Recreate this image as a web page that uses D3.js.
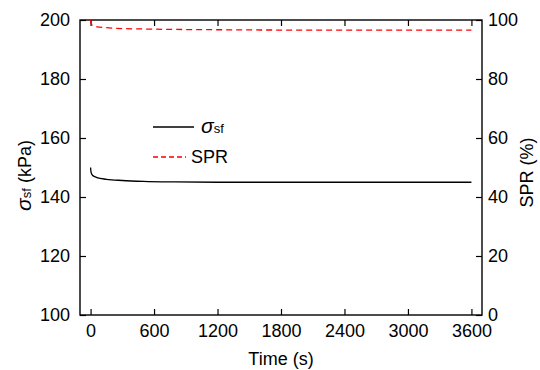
<!DOCTYPE html>
<html>
<head>
<meta charset="utf-8">
<script src="https://cdn.jsdelivr.net/npm/d3@7"></script>
<style>
  body { margin: 0; background: #fff; }
  svg text { font-family: "Liberation Sans", Arial, sans-serif; fill: #000; }
</style>
</head>
<body>
<div id="graph1"></div>
<script>
// data
var time  = [0, 5, 20, 60, 150, 300, 500, 800, 1200, 1800, 2400, 3000, 3600];
var sigma = [150, 148.3, 147.3, 146.6, 146.0, 145.6, 145.3, 145.1, 145.0, 145.0, 145.0, 145.0, 145.0];
var spr   = [100, 98.7, 98.1, 97.7, 97.4, 97.1, 96.95, 96.8, 96.7, 96.6, 96.6, 96.6, 96.6];
var xTicks = [0, 600, 1200, 1800, 2400, 3000, 3600];
var yTicks = [100, 120, 140, 160, 180, 200];
var y2Ticks = [0, 20, 40, 60, 80, 100];

var W = 540, H = 370;
var margin = {top: 20, right: 58, bottom: 55, left: 80},
    width = W - margin.left - margin.right,
    height = H - margin.top - margin.bottom;

var svg = d3.select("#graph1")
  .append("svg")
    .attr("width", W)
    .attr("height", H)
  .append("g")
    .attr("transform", "translate(" + margin.left + "," + margin.top + ")");

var x = d3.scaleLinear().domain([-100, 3700]).range([0, width]);
var y = d3.scaleLinear().domain([100, 200]).range([height, 0]);
var y2 = d3.scaleLinear().domain([0, 100]).range([height, 0]);

var fs = 18;
var fmt = d3.format("d");

function style(g) {
  g.selectAll("text").style("font-size", fs + "px");
  g.selectAll("line").attr("stroke", "#000").attr("stroke-width", 1.2);
  g.select(".domain").remove();
}

svg.append("g")
  .attr("transform", "translate(0," + height + ")")
  .call(d3.axisBottom(x).tickValues(xTicks).tickSize(-6).tickPadding(9).tickFormat(fmt))
  .call(style);

svg.append("g")
  .call(d3.axisTop(x).tickValues(xTicks).tickSize(-6).tickFormat(""))
  .call(style);

svg.append("g")
  .call(d3.axisLeft(y).tickValues(yTicks).tickSize(-6).tickPadding(10).tickFormat(fmt))
  .call(style);

svg.append("g")
  .attr("transform", "translate(" + width + ",0)")
  .call(d3.axisRight(y2).tickValues(y2Ticks).tickSize(-6).tickPadding(6).tickFormat(fmt))
  .call(style);

// frame
svg.append("rect")
  .attr("width", width)
  .attr("height", height)
  .attr("fill", "none")
  .attr("stroke", "#000")
  .attr("stroke-width", 1.4);

var sigmaData = time.map(function(t, i) { return {t: t, v: sigma[i]}; });
var sprData = time.map(function(t, i) { return {t: t, v: spr[i]}; });

var lineS = d3.line()
  .x(function(d) { return x(d.t); })
  .y(function(d) { return y(d.v); })
  .curve(d3.curveMonotoneX);

var lineP = d3.line()
  .x(function(d) { return x(d.t); })
  .y(function(d) { return y2(d.v); })
  .curve(d3.curveMonotoneX);

svg.append("path")
  .datum(sigmaData)
  .attr("d", lineS)
  .attr("fill", "none")
  .attr("stroke", "#000")
  .attr("stroke-width", 1.3);

svg.append("path")
  .datum(sprData)
  .attr("d", lineP)
  .attr("fill", "none")
  .attr("stroke", "#ff0000")
  .attr("stroke-width", 1.3)
  .attr("stroke-dasharray", "6,4");

// legend
var leg = svg.append("g").attr("transform", "translate(73,0)");
leg.append("line")
  .attr("x1", 0).attr("x2", 41).attr("y1", 107).attr("y2", 107)
  .attr("stroke", "#000").attr("stroke-width", 1.3);
var lt = leg.append("text").attr("x", 48).attr("y", 113).style("font-size", fs + "px");
lt.append("tspan").text("σ").style("font-style", "italic").style("font-size", "21px");
lt.append("tspan").text("sf").style("font-size", "13px");

leg.append("line")
  .attr("x1", 0).attr("x2", 33).attr("y1", 137).attr("y2", 137)
  .attr("stroke", "#ff0000").attr("stroke-width", 1.3)
  .attr("stroke-dasharray", "5,3");
leg.append("text").attr("x", 38).attr("y", 143).style("font-size", fs + "px").text("SPR");

// axis titles
svg.append("text")
  .attr("text-anchor", "middle")
  .attr("x", width / 2)
  .attr("y", height + 50)
  .style("font-size", fs + "px")
  .text("Time (s)");

var yl = svg.append("text")
  .attr("text-anchor", "middle")
  .attr("transform", "translate(-49," + (height / 2 + 8) + ") rotate(-90)")
  .style("font-size", fs + "px");
yl.append("tspan").text("σ").style("font-style", "italic").style("font-size", "21px");
yl.append("tspan").text("sf").style("font-size", "13px");
yl.append("tspan").text(" (kPa)");

svg.append("text")
  .attr("text-anchor", "middle")
  .attr("transform", "translate(" + (width + 51) + "," + (height / 2 + 5) + ") rotate(-90)")
  .style("font-size", fs + "px")
  .text("SPR (%)");
</script>
</body>
</html>
